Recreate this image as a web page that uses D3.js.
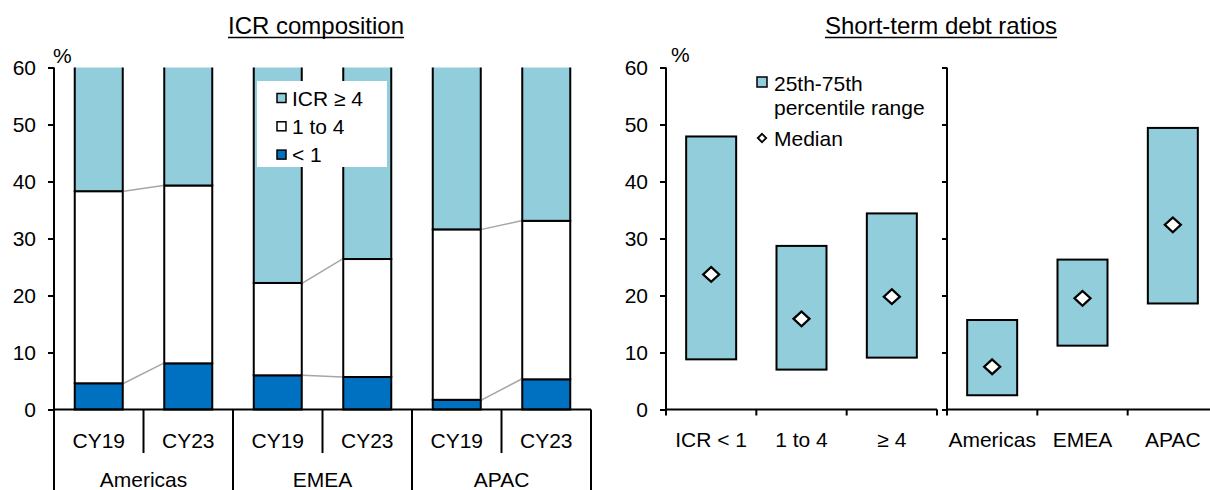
<!DOCTYPE html>
<html><head><meta charset="utf-8">
<script src="https://cdn.jsdelivr.net/npm/d3@7"></script>
<style>
html,body{margin:0;padding:0;background:#fff;}
svg text{font-family:"Liberation Sans",Arial,sans-serif;fill:#000;}
</style></head>
<body><svg id="c" width="1210" height="490"></svg>
<script>
// ---------- data ----------
const periods = ["CY19","CY23","CY19","CY23","CY19","CY23"];
const regions = ["Americas","EMEA","APAC"];
const icrBelow1 = [4.6, 8.1, 6.0, 5.7, 1.7, 5.3];
const icr1to4   = [33.7, 31.2, 16.2, 20.7, 29.9, 27.8];
const icrAbove4 = [61.7, 60.7, 77.8, 73.6, 68.4, 66.9];
const yTicks = [0,10,20,30,40,50,60];
const seriesNames = ["ICR \u2265 4","1 to 4","< 1"];

const groupA = ["ICR < 1","1 to 4","\u2265 4"];
const groupB = ["Americas","EMEA","APAC"];
const p25A = [8.8, 7.0, 9.1];
const p75A = [47.9, 28.7, 34.4];
const medA = [23.7, 15.9, 19.8];
const p25B = [2.5, 11.2, 18.6];
const p75B = [15.7, 26.3, 49.4];
const medB = [7.5, 19.5, 32.4];

const leftTitle = "ICR composition";
const rightTitle = "Short-term debt ratios";

// ---------- style ----------
const LB = "#92CDDC", DB = "#0070C0", FS = 21, TFS = 24;
const svg = d3.select("#c");
const y = d3.scaleLinear().domain([0,60]).range([409.5,67.5]);

function title(txt, cx){
  const t = svg.append("text").attr("x",cx).attr("y",34).attr("text-anchor","middle")
    .attr("font-size",TFS).text(txt);
  const bb = t.node().getBBox();
  svg.append("line").attr("x1",bb.x).attr("x2",bb.x+bb.width).attr("y1",37.5).attr("y2",37.5)
    .attr("stroke","#000").attr("stroke-width",1.6);
}
function yAxis(x, labels){
  const ax = d3.axisLeft(y).tickValues(yTicks).tickSize(labels?6:5).tickPadding(12)
    .tickFormat(labels? d3.format("d") : "");
  const g = svg.append("g").attr("transform",`translate(${x},0)`).call(ax);
  g.select(".domain").attr("d",`M0,${y(60)}V${y(0)}`).attr("stroke","#000").attr("stroke-width",2);
  g.selectAll(".tick line").attr("stroke","#000").attr("stroke-width",2);
  g.selectAll(".tick text").attr("font-size",FS).attr("font-family","Liberation Sans, Arial, sans-serif").attr("fill","#000");
  return g;
}

// ---------- left chart ----------
title(leftTitle, 316);
const xL = d3.scaleBand().domain(d3.range(periods.length)).range([54,591]);
const bw = 48;
svg.append("defs").append("clipPath").attr("id","clipL")
  .append("rect").attr("x",40).attr("y",y(60)).attr("width",560).attr("height",y(0)-y(60)+5);
const stackData = periods.map((p,i)=>({i, below:icrBelow1[i], mid:icr1to4[i], top:icrAbove4[i]}));
const stack = d3.stack().keys(["below","mid","top"])(stackData);
const colors = {below:DB, mid:"#fff", top:LB};
const gBars = svg.append("g").attr("clip-path","url(#clipL)");
stack.forEach(layer=>{
  gBars.selectAll(null).data(layer).enter().append("rect")
    .attr("x",d=>xL(d.data.i)+xL.bandwidth()/2-bw/2)
    .attr("width",bw)
    .attr("y",d=>y(d[1]))
    .attr("height",d=>y(d[0])-y(d[1]))
    .attr("fill",colors[layer.key]).attr("stroke","#000").attr("stroke-width",2);
});
// connector lines
regions.forEach((r,ri)=>{
  const a = ri*2, b = ri*2+1;
  [0,1].forEach(li=>{
    const va = stack[li][a][1], vb = stack[li][b][1];
    svg.append("line")
      .attr("x1",xL(a)+xL.bandwidth()/2+bw/2+1).attr("y1",y(va))
      .attr("x2",xL(b)+xL.bandwidth()/2-bw/2-1).attr("y2",y(vb))
      .attr("stroke","#a6a6a6").attr("stroke-width",1.5);
  });
});
// left y axis
yAxis(54,true);
svg.append("text").attr("x",53).attr("y",63).attr("font-size",FS).text("%");
// multilevel category axis
svg.append("line").attr("x1",54).attr("x2",591).attr("y1",y(0)).attr("y2",y(0))
  .attr("stroke","#000").attr("stroke-width",2);
d3.range(periods.length+1).forEach(k=>{
  const xx = 54 + k*xL.bandwidth();
  svg.append("line").attr("x1",xx).attr("x2",xx).attr("y1",y(0))
    .attr("y2", k%2===0 ? 495 : 453).attr("stroke","#000").attr("stroke-width",2);
});
periods.forEach((p,i)=>{
  svg.append("text").attr("x",xL(i)+xL.bandwidth()/2).attr("y",448)
    .attr("text-anchor","middle").attr("font-size",FS).text(p);
});
regions.forEach((r,ri)=>{
  svg.append("text").attr("x",54+(ri*2+1)*xL.bandwidth()).attr("y",487)
    .attr("text-anchor","middle").attr("font-size",FS).text(r);
});
// left legend
svg.append("rect").attr("x",257).attr("y",81).attr("width",130).attr("height",86).attr("fill","#fff");
const legCols = [LB,"#fff",DB];
seriesNames.forEach((s,k)=>{
  const cy = 98 + k*28.3;
  svg.append("rect").attr("x",277).attr("y",cy-4.5).attr("width",9).attr("height",9)
    .attr("fill",legCols[k]).attr("stroke","#000").attr("stroke-width",1.5);
  svg.append("text").attr("x",292).attr("y",cy+7.5).attr("font-size",FS).text(s);
});

// ---------- right chart ----------
title(rightTitle, 941);
const panels = [
  {x0:666, x1:937, cats:groupA, lo:p25A, hi:p75A, med:medA, labels:true},
  {x0:947, x1:1218, cats:groupB, lo:p25B, hi:p75B, med:medB, labels:false}
];
const boxW = 50;
panels.forEach(P=>{
  const xs = d3.scaleBand().domain(P.cats).range([P.x0,P.x1]);
  P.cats.forEach((c,i)=>{
    const cx = xs(c)+xs.bandwidth()/2;
    svg.append("rect").attr("x",cx-boxW/2).attr("width",boxW)
      .attr("y",y(P.hi[i])).attr("height",y(P.lo[i])-y(P.hi[i]))
      .attr("fill",LB).attr("stroke","#000").attr("stroke-width",2);
    svg.append("path").attr("d",d3.symbol().type(d3.symbolDiamond2).size(170)())
      .attr("transform",`translate(${cx},${y(P.med[i])}) scale(0.98,0.9)`)
      .attr("fill","#fff").attr("stroke","#000").attr("stroke-width",2.4);
    svg.append("text").attr("x",cx).attr("y",447).attr("text-anchor","middle")
      .attr("font-size",FS).text(c);
  });
  yAxis(P.x0, P.labels);
  const ax = d3.axisBottom(xs).tickSize(6).tickFormat("");
  const g = svg.append("g").attr("transform",`translate(0,${y(0)})`).call(ax);
  g.select(".domain").attr("d",`M${P.x0},0H${P.x1}`).attr("stroke","#000").attr("stroke-width",2);
  g.selectAll(".tick").remove();
  d3.range(P.cats.length+1).forEach(k=>{
    const xx = P.x0 + k*xs.bandwidth();
    g.append("line").attr("x1",xx).attr("x2",xx).attr("y1",0).attr("y2",6)
      .attr("stroke","#000").attr("stroke-width",2);
  });
});
svg.append("text").attr("x",671).attr("y",62).attr("font-size",FS).text("%");
// right legend
svg.append("rect").attr("x",757).attr("y",77).attr("width",10).attr("height",10)
  .attr("fill",LB).attr("stroke","#000").attr("stroke-width",1.5);
svg.append("text").attr("x",774).attr("y",91).attr("font-size",FS).text("25th-75th");
svg.append("text").attr("x",774).attr("y",115).attr("font-size",FS).text("percentile range");
svg.append("path").attr("d",d3.symbol().type(d3.symbolDiamond2).size(45)())
  .attr("transform",`translate(762,138)`).attr("fill","#fff").attr("stroke","#000").attr("stroke-width",1.8);
svg.append("text").attr("x",774).attr("y",146).attr("font-size",FS).text("Median");
</script></body></html>
